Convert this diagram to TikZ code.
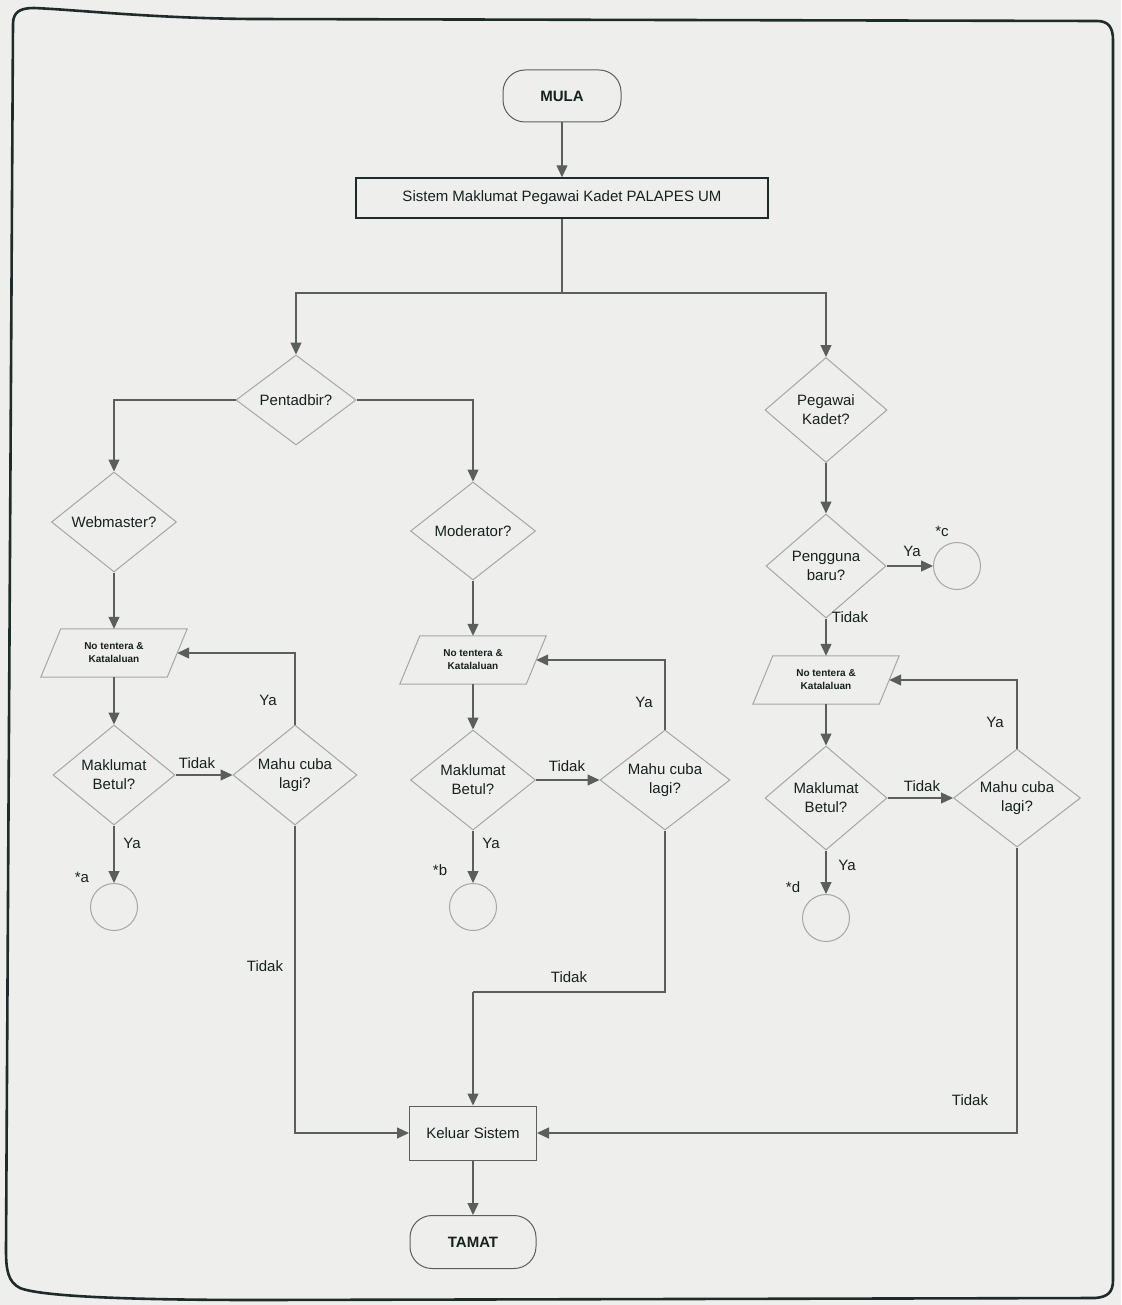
\documentclass[tikz,border=0pt]{standalone}
\usepackage{fontspec}
\setmainfont{Liberation Sans}
\usetikzlibrary{shapes.geometric,arrows.meta,calc}
\definecolor{bg}{HTML}{EEEFEC}
\definecolor{txt}{HTML}{16211F}
\definecolor{lc}{HTML}{5A5F5E}
\definecolor{shp}{HTML}{A3A7A6}
\definecolor{frm}{HTML}{1F2B2A}
\begin{document}
\begin{tikzpicture}[x=1pt,y=-1pt,
  base/.style={font=\fontsize{15}{19}\selectfont, text=txt, align=center},
  dec/.style={base, diamond, draw=shp, line width=1pt, inner sep=0pt, shape aspect=1.25},
  term/.style={base, font=\fontsize{15}{19}\selectfont\bfseries, rectangle, rounded corners=22pt, draw=lc, line width=1pt, minimum width=118pt, minimum height=52pt},
  proc/.style={base, rectangle, draw=lc, line width=1pt},
  conn/.style={circle, draw=shp, line width=1pt, minimum size=47pt, inner sep=0pt},
  inp/.style={base, font=\fontsize{10}{13}\selectfont\bfseries, rectangle, minimum width=126pt, minimum height=48pt, inner sep=0pt},
  para/.style={draw=shp, line width=1pt},
  arr/.style={draw=lc, line width=1.2pt, -{Triangle[length=12pt,width=11pt]}},
  ln/.style={draw=lc, line width=1.2pt},
  lbl/.style={base, inner sep=0pt},
  frame/.style={draw=frm, line width=2.6pt, line join=round}
]
\fill[bg] (0,0) rectangle (1121,1305);
\useasboundingbox (0,0) rectangle (1121,1305);

% frame
\draw[frame] (13,24) .. controls (13,12) and (20,8) .. (34,8)
  .. controls (80,10) and (150,18) .. (250,19) -- (1097,21)
  .. controls (1108,21) and (1113,27) .. (1113,40) -- (1113,1280)
  .. controls (1113,1292) and (1108,1297) .. (1095,1298) -- (260,1300)
  .. controls (120,1300) and (40,1296) .. (20,1288)
  .. controls (8,1282) and (6,1270) .. (6,1250) -- cycle;

% nodes
\node[term] (start) at (562,96) {MULA};
\node[proc, draw=frm, line width=1.4pt, minimum width=412pt, minimum height=40pt] (sys) at (562,198) {Sistem Maklumat Pegawai Kadet PALAPES UM};
\node[dec, minimum width=120pt, minimum height=90pt] (pent) at (296,400) {Pentadbir?};
\node[dec, minimum width=122pt, minimum height=105pt] (peg) at (826,410) {Pegawai\\Kadet?};
\node[dec, minimum width=125pt, minimum height=100pt] (web) at (114,522) {Webmaster?};
\node[dec, minimum width=125pt, minimum height=98pt] (mod) at (473,531) {Moderator?};
\node[dec, minimum width=120pt, minimum height=104pt] (peng) at (826,566) {Pengguna\\baru?};
\node[conn] (cC) at (957,566) {};

\node[inp] (in1) at (114,653) {No tentera \&\\Katalaluan};
\node[inp] (in2) at (473,660) {No tentera \&\\Katalaluan};
\node[inp] (in3) at (826,680) {No tentera \&\\Katalaluan};
\foreach \n in {in1,in2,in3}
  \draw[para] ($(\n.north west)+(10,0)$) -- ($(\n.north east)+(10,0)$) -- ($(\n.south east)+(-10,0)$) -- ($(\n.south west)+(-10,0)$) -- cycle;

\node[dec, minimum width=122pt, minimum height=100pt] (mak1) at (114,775) {Maklumat\\Betul?};
\node[dec, minimum width=124pt, minimum height=100pt] (mahu1) at (295,775) {Mahu cuba\\lagi?};
\node[dec, minimum width=125pt, minimum height=100pt] (mak2) at (473,780) {Maklumat\\Betul?};
\node[dec, minimum width=130pt, minimum height=100pt] (mahu2) at (665,780) {Mahu cuba\\lagi?};
\node[dec, minimum width=122pt, minimum height=104pt] (mak3) at (826,798) {Maklumat\\Betul?};
\node[dec, minimum width=127pt, minimum height=98pt] (mahu3) at (1017,798) {Mahu cuba\\lagi?};

\node[conn] (cA) at (114,907) {};
\node[conn] (cB) at (473,907) {};
\node[conn] (cD) at (826,918) {};

\node[proc, minimum width=127pt, minimum height=54pt] (kel) at (473,1133) {Keluar Sistem};
\node[term, minimum width=126pt, minimum height=53pt] (tamat) at (473,1242) {TAMAT};

\coordinate (split) at (562,293);
\coordinate (mjoin) at (473,992);

% connectors
\draw[arr] (start) -- (sys);
\draw[ln] (sys.south) -- (split);
\draw[arr] (split) -| (pent.north);
\draw[arr] (split) -| (peg.north);
\draw[arr] (pent.west) -| (web.north);
\draw[arr] (pent.east) -| (mod.north);
\draw[arr] (peg.south) -- (peng.north);
\draw[arr] (peng.east) -- (cC.west);
\draw[arr] (peng.south) -- (in3.north);
\draw[arr] (web.south) -- (in1.north);
\draw[arr] (mod.south) -- (in2.north);
\draw[arr] (in1.south) -- (mak1.north);
\draw[arr] (in2.south) -- (mak2.north);
\draw[arr] (in3.south) -- (mak3.north);
\draw[arr] (mak1.east) -- (mahu1.west);
\draw[arr] (mak2.east) -- (mahu2.west);
\draw[arr] (mak3.east) -- (mahu3.west);
\draw[arr] (mak1.south) -- (cA.north);
\draw[arr] (mak2.south) -- (cB.north);
\draw[arr] (mak3.south) -- (cD.north);
\draw[arr] (mahu1.north) |- (in1.east);
\draw[arr] (mahu2.north) |- (in2.east);
\draw[arr] (mahu3.north) |- (in3.east);
\draw[arr] (mahu1.south) |- (kel.west);
\draw[ln] (mahu2.south) |- (mjoin);
\draw[arr] (mjoin) -- (kel.north);
\draw[arr] (mahu3.south) |- (kel.east);
\draw[arr] (kel.south) -- (tamat.north);

% labels
\node[lbl] (lyc) at (912,551) {Ya};
\node[lbl] (lsc) at (942,531) {*c};
\node[lbl] (ltp) at (850,617) {Tidak};
\node[lbl] (lt1) at (197,763) {Tidak};
\node[lbl] (lt2) at (567,766) {Tidak};
\node[lbl] (lt3) at (922,786) {Tidak};
\node[lbl] (ly1) at (268,700) {Ya};
\node[lbl] (ly2) at (644,702) {Ya};
\node[lbl] (ly3) at (995,722) {Ya};
\node[lbl] (lya) at (132,843) {Ya};
\node[lbl] (lyb) at (491,843) {Ya};
\node[lbl] (lyd) at (847,865) {Ya};
\node[lbl] (lsa) at (82,877) {*a};
\node[lbl] (lsb) at (440,870) {*b};
\node[lbl] (lsd) at (793,887) {*d};
\node[lbl] (lk1) at (265,966) {Tidak};
\node[lbl] (lk2) at (569,977) {Tidak};
\node[lbl] (lk3) at (970,1100) {Tidak};
\end{tikzpicture}
\end{document}
